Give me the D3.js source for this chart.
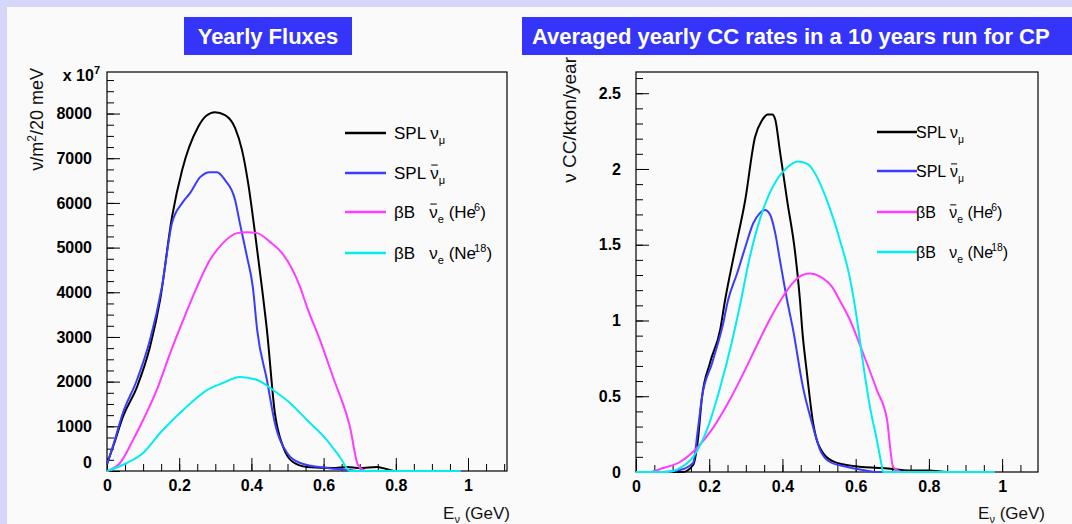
<!DOCTYPE html>
<html>
<head>
<meta charset="utf-8">
<script src="https://cdn.jsdelivr.net/npm/d3@7"></script>
<style>
  body { margin: 0; background: #d6d6f8; }
  svg { display: block; font-family: "Liberation Sans", Arial, sans-serif; }
</style>
</head>
<body>
<script>
// energies in GeV, fluxes in units of 1e7 nu/m2/20 MeV
const fluxSplNumu = [[0,150],[0.02,620],[0.044,1208],[0.083,1879],[0.119,2774],[0.147,3825],[0.18,5682],[0.208,6733],[0.252,7695],[0.275,7950],[0.299,8031],[0.327,7964],[0.355,7673],[0.374,7181],[0.391,6442],[0.41,5324],[0.429,4116],[0.443,3154],[0.465,1297],[0.488,537],[0.515,201],[0.554,90],[0.626,67],[0.665,90],[0.70,67],[0.748,90],[0.784,22],[0.8,0],[0.98,0]];
const fluxSplAntiNumu = [[0,150],[0.02,650],[0.044,1297],[0.083,2036],[0.119,2930],[0.152,4116],[0.18,5548],[0.208,5995],[0.23,6219],[0.258,6577],[0.285,6689],[0.305,6689],[0.327,6510],[0.355,6062],[0.368,5548],[0.388,4787],[0.404,4116],[0.416,3154],[0.443,2036],[0.465,1074],[0.499,403],[0.535,179],[0.609,67],[0.673,22],[0.7,0],[0.98,0]];
const fluxBbHe6 = [[0,0],[0.036,179],[0.072,693],[0.1,1141],[0.141,1879],[0.175,2640],[0.211,3378],[0.249,4116],[0.285,4720],[0.321,5100],[0.36,5324],[0.388,5346],[0.416,5324],[0.452,5123],[0.485,4877],[0.535,4116],[0.554,3669],[0.59,2930],[0.626,2103],[0.673,984],[0.695,134],[0.709,22],[0.72,0],[0.98,0]];
const fluxBbNe18 = [[0,0],[0.055,179],[0.1,403],[0.147,850],[0.211,1365],[0.277,1812],[0.321,1969],[0.368,2103],[0.416,2036],[0.46,1812],[0.507,1521],[0.554,1141],[0.609,693],[0.645,313],[0.673,0],[0.98,0]];

// CC rates, nu CC/kton/year
const rateSplNumu = [[0,0],[0.128,0],[0.156,0.046],[0.169,0.21],[0.18,0.49],[0.202,0.72],[0.23,0.94],[0.243,1.13],[0.27,1.46],[0.298,1.79],[0.325,2.21],[0.344,2.32],[0.36,2.36],[0.372,2.36],[0.38,2.33],[0.393,2.12],[0.413,1.79],[0.434,1.46],[0.448,1.13],[0.454,0.94],[0.467,0.65],[0.484,0.32],[0.511,0.125],[0.549,0.06],[0.62,0.033],[0.675,0.026],[0.75,0.01],[0.8,0.01],[0.85,0],[0.98,0]];
const rateSplAntiNumu = [[0,0],[0.074,0],[0.12,0.013],[0.156,0.06],[0.169,0.28],[0.18,0.49],[0.208,0.72],[0.238,0.98],[0.251,1.13],[0.276,1.31],[0.298,1.48],[0.32,1.64],[0.339,1.71],[0.352,1.73],[0.366,1.70],[0.38,1.58],[0.393,1.40],[0.413,1.13],[0.429,0.94],[0.456,0.56],[0.481,0.32],[0.503,0.145],[0.53,0.066],[0.577,0.033],[0.62,0.013],[0.66,0],[0.98,0]];
const rateBbHe6 = [[0,0],[0.038,0],[0.074,0.026],[0.12,0.066],[0.167,0.16],[0.21,0.29],[0.257,0.48],[0.295,0.66],[0.331,0.84],[0.366,1.01],[0.402,1.16],[0.429,1.25],[0.455,1.30],[0.475,1.31],[0.503,1.29],[0.536,1.22],[0.557,1.13],[0.585,1.00],[0.62,0.785],[0.658,0.54],[0.686,0.34],[0.694,0.165],[0.702,0.033],[0.713,0.013],[0.73,0],[0.98,0]];
const rateBbNe18 = [[0,0],[0.085,0],[0.12,0.026],[0.156,0.1],[0.194,0.28],[0.23,0.56],[0.262,0.86],[0.284,1.1],[0.311,1.42],[0.347,1.73],[0.385,1.93],[0.413,2.01],[0.443,2.05],[0.47,2.03],[0.484,1.99],[0.522,1.79],[0.557,1.53],[0.585,1.27],[0.604,1.00],[0.62,0.72],[0.639,0.43],[0.658,0.21],[0.672,0.033],[0.675,0],[0.98,0]];

const seriesColors = ["#000000", "#3b3bff", "#ff3cff", "#00eeee"];
const xTicks = [0, 0.2, 0.4, 0.6, 0.8, 1];
const fluxTicks = [0, 1000, 2000, 3000, 4000, 5000, 6000, 7000, 8000];
const rateTicks = [0, 0.5, 1, 1.5, 2, 2.5];

const W = 1072, H = 524;
const svg = d3.select("body").append("svg").attr("width", W).attr("height", H);

svg.append("rect").attr("x", 0).attr("y", 0).attr("width", W).attr("height", H).attr("fill", "#d6d6f8");
svg.append("rect").attr("x", 7).attr("y", 7).attr("width", W - 7).attr("height", H - 7).attr("fill", "#fafafa");

// legend entries
const legendRows = [
  { pre: "SPL ", bar: false, sub: "\u03BC", tail: "", sup: "", end: "" },
  { pre: "SPL ", bar: true,  sub: "\u03BC", tail: "", sup: "", end: "" },
  { pre: "\u03B2B   ", bar: true,  sub: "e", tail: " (He", sup: "6", end: ")" },
  { pre: "\u03B2B   ", bar: false, sub: "e", tail: " (Ne", sup: "18", end: ")" }
];

function drawPanel(cfg) {
  const x = d3.scaleLinear().domain([0, cfg.xMax]).range([cfg.left, cfg.right]);
  const y = d3.scaleLinear().domain([0, cfg.yMax]).range([cfg.bottom, cfg.top]);
  const g = svg.append("g");

  // minor ticks
  g.append("g").attr("transform", `translate(0,${cfg.bottom})`)
    .call(d3.axisBottom(x).tickValues(d3.range(0, cfg.xMax, 0.05)).tickSizeInner(-7).tickSizeOuter(0).tickFormat(""))
    .call(a => a.select(".domain").remove());
  g.append("g").attr("transform", `translate(${cfg.left},0)`)
    .call(d3.axisLeft(y).tickValues(d3.range(0, cfg.yMax, cfg.yMinor)).tickSizeInner(-7).tickSizeOuter(0).tickFormat(""))
    .call(a => a.select(".domain").remove());

  // major ticks + labels
  const xa = g.append("g").attr("transform", `translate(0,${cfg.bottom})`)
    .call(d3.axisBottom(x).tickValues(xTicks).tickSizeInner(-13).tickSizeOuter(0).tickPadding(9).tickFormat(d3.format("")));
  xa.select(".domain").remove();
  const ya = g.append("g").attr("transform", `translate(${cfg.left},0)`)
    .call(d3.axisLeft(y).tickValues(cfg.yTicks).tickSizeInner(-13).tickSizeOuter(0).tickPadding(cfg.yPad).tickFormat(d3.format("")));
  ya.select(".domain").remove();
  if (cfg.zeroShift) ya.selectAll(".tick text").filter(d => d === 0).attr("dy", cfg.zeroShift);
  g.selectAll(".tick text").attr("font-size", 16).attr("font-weight", "bold").attr("fill", "#000")
    .attr("font-family", "'Liberation Sans', Arial, sans-serif");
  g.selectAll(".tick line").attr("stroke", "#000");

  // frame
  g.append("rect").attr("x", cfg.left).attr("y", cfg.top)
    .attr("width", cfg.right - cfg.left).attr("height", cfg.bottom - cfg.top)
    .attr("fill", "none").attr("stroke", "#000").attr("stroke-width", 1.2);

  const line = d3.line().x(d => x(d[0])).y(d => y(d[1])).curve(d3.curveMonotoneX);
  cfg.series.forEach((s, i) => {
    g.append("path").datum(s).attr("d", line).attr("fill", "none")
      .attr("stroke", seriesColors[i]).attr("stroke-width", 2);
  });

  // legend
  legendRows.forEach((r, i) => {
    const ly = cfg.legendY[i];
    g.append("line").attr("x1", cfg.legendX1).attr("x2", cfg.legendX2).attr("y1", ly).attr("y2", ly)
      .attr("stroke", seriesColors[i]).attr("stroke-width", 2.5);
    const t = g.append("text").attr("x", cfg.legendText).attr("y", ly + 6)
      .attr("font-size", cfg.legendFont).attr("fill", "#000").style("white-space", "pre");
    t.append("tspan").text(r.pre + "\u03BD");
    t.append("tspan").attr("dy", 5).attr("font-size", cfg.legendFont * 0.65).text(r.sub);
    if (r.tail) {
      t.append("tspan").attr("dy", -5).text(r.tail);
      t.append("tspan").attr("dy", -7).attr("dx", -2).attr("font-size", cfg.legendFont * 0.65).text(r.sup);
      t.append("tspan").attr("dy", 7).text(r.end);
    }
    if (r.bar) {
      const node = t.node();
      const k = r.pre.length;
      const p0 = node.getStartPositionOfChar(k), p1 = node.getEndPositionOfChar(k);
      g.append("line").attr("x1", p0.x + 1).attr("x2", p1.x - 1)
        .attr("y1", ly + 6 - cfg.legendFont * 0.82).attr("y2", ly + 6 - cfg.legendFont * 0.82)
        .attr("stroke", "#000").attr("stroke-width", 1);
    }
  });

  // title box
  g.append("rect").attr("x", cfg.titleX).attr("y", 17).attr("width", cfg.titleW).attr("height", 38)
    .attr("fill", "#3535fa");
  g.append("text").attr("x", cfg.titleTextX).attr("y", 44).attr("fill", "#fff")
    .attr("font-size", 22).attr("font-weight", "bold").attr("text-anchor", cfg.titleAnchor)
    .text(cfg.title);

  // x axis title
  const xt = g.append("text").attr("x", cfg.xTitleX).attr("y", 519).attr("text-anchor", "end")
    .attr("font-size", 17).attr("fill", "#111");
  xt.append("tspan").text("E");
  xt.append("tspan").attr("dy", 4).attr("font-size", 11).text("\u03BD");
  xt.append("tspan").attr("dy", -4).text(" (GeV)");

  // y axis title
  const yt = g.append("text").attr("transform", `translate(${cfg.yTitleX},${cfg.yTitleY}) rotate(-90)`)
    .attr("text-anchor", "end").attr("font-size", cfg.yTitleFont).attr("fill", "#111");
  cfg.yTitle(yt);
}

drawPanel({
  left: 107, right: 507, top: 72, bottom: 471, xMax: 1.108, yMax: 8930, yMinor: 250,
  yTicks: fluxTicks, yPad: 15, zeroShift: "-0.25em",
  series: [fluxSplNumu, fluxSplAntiNumu, fluxBbHe6, fluxBbNe18],
  legendX1: 345, legendX2: 386, legendText: 394, legendY: [133, 173, 212, 253], legendFont: 17,
  titleX: 184, titleW: 168, titleTextX: 268, titleAnchor: "middle", title: "Yearly Fluxes",
  xTitleX: 510, yTitleX: 43, yTitleY: 68, yTitleFont: 18,
  yTitle: t => {
    t.append("tspan").text("\u03BD/m");
    t.append("tspan").attr("dy", -7).attr("font-size", 12).text("2");
    t.append("tspan").attr("dy", 7).text("/20 meV");
  }
});

drawPanel({
  left: 636, right: 1038, top: 72, bottom: 472, xMax: 1.098, yMax: 2.64, yMinor: 0.1,
  yTicks: rateTicks, yPad: 15, zeroShift: null,
  series: [rateSplNumu, rateSplAntiNumu, rateBbHe6, rateBbNe18],
  legendX1: 877, legendX2: 917, legendText: 916, legendY: [132, 171, 212, 252], legendFont: 16,
  titleX: 522, titleW: 560, titleTextX: 532, titleAnchor: "start",
  title: "Averaged yearly CC rates in a 10 years run for CP",
  xTitleX: 1045, yTitleX: 576, yTitleY: 57, yTitleFont: 19,
  yTitle: t => t.text("\u03BD CC/kton/year")
});

// x 10^7 multiplier
const mult = svg.append("text").attr("x", 100).attr("y", 81).attr("text-anchor", "end")
  .attr("font-size", 16).attr("font-weight", "bold");
mult.append("tspan").text("x 10");
mult.append("tspan").attr("dy", -7).attr("font-size", 11).text("7");
</script>
</body>
</html>
